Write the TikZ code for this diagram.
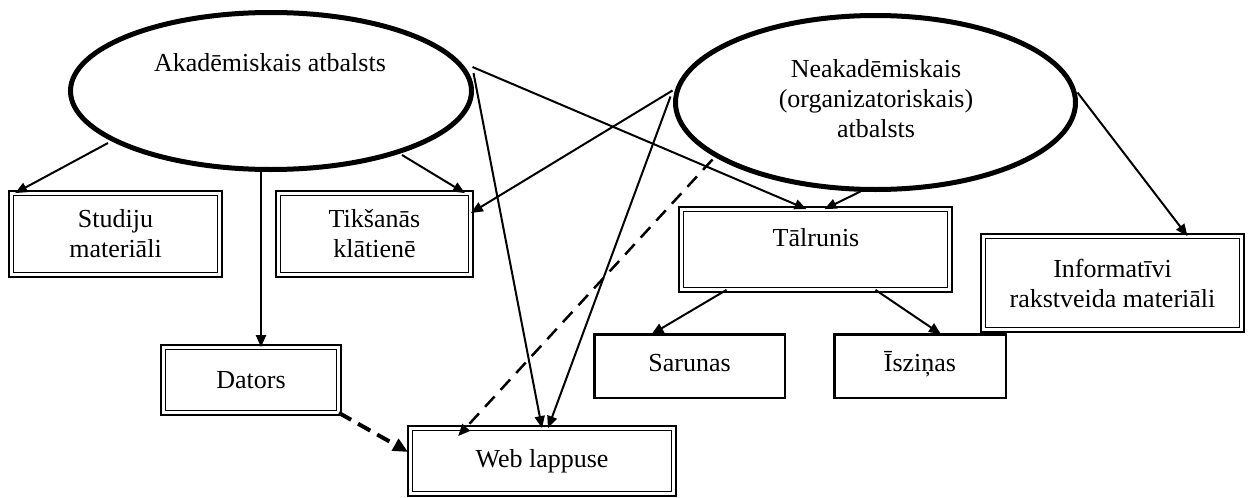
\documentclass[tikz,border=0pt]{standalone}
\usepackage{fontspec}
\setmainfont{Liberation Serif}
\usetikzlibrary{arrows.meta,calc,shapes.geometric}
\begin{document}
\begin{tikzpicture}[x=1pt,y=-1pt,
  every node/.style={font=\fontsize{26}{30}\selectfont},
  oval/.style={ellipse, draw, line width=5pt, inner sep=0pt, outer sep=0pt},
  dbox/.style={draw, double, line width=1.6pt, double distance=3pt, inner sep=0pt, outer sep=0pt, align=center},
  sbox/.style={draw, line width=2.5pt, inner sep=0pt, outer sep=0pt, align=center, text height=18pt, text depth=8pt},
  txt/.style={inner sep=0pt, align=center},
  conn/.style={line width=2pt, -{Triangle[length=12pt,width=10pt]}},
  dconn/.style={conn, line width=2.5pt, dash pattern=on 14pt off 9pt},
  tconn/.style={line width=4pt, dash pattern=on 14pt off 8pt, -{Triangle[length=15pt,width=13pt]}},
]
\useasboundingbox (0,0) rectangle (1251,498);

% ellipses
\node[oval, minimum width=401pt, minimum height=157pt] (e1) at (271,91) {};
\node[txt] (e1t) at (270,63) {Akadēmiskais atbalsts};
\node[oval, minimum width=400pt, minimum height=174pt] (e2) at (875.5,102.5) {};
\node[txt] (e2t) at (876,99) {Neakadēmiskais\\(organizatoriskais)\\atbalsts};

% boxes
\node[dbox, minimum width=208.8pt, minimum height=81.8pt] (stud) at (115.5,234) {Studiju\\materiāli};
\node[dbox, minimum width=192.8pt, minimum height=81.8pt] (tik) at (374.5,234) {Tikšanās\\klātienē};
\node[dbox, minimum width=175.8pt, minimum height=65.8pt] (dat) at (251,380) {Dators};
\node[dbox, minimum width=263.8pt, minimum height=65.8pt] (web) at (542,461) {Web lappuse};
\node[dbox, minimum width=268.8pt, minimum height=80.8pt] (tal) at (815.5,249.5) {};
\node[txt] (talt) at (816,238) {Tālrunis};
\node[dbox, minimum width=258.8pt, minimum height=93.8pt] (inf) at (1112.5,283) {Informatīvi\\rakstveida materiāli};
\node[sbox, minimum width=190.5pt, minimum height=63.5pt] (sar) at (689.5,366) {Sarunas};
\node[sbox, minimum width=171.5pt, minimum height=63.5pt] (isz) at (920,366) {Īsziņas};

% connector end points on the ellipses
\coordinate (e1bot) at ($(e1.center)+(-10,79)$);

% connectors from Akademiskais
\draw[conn] ($(e1.center)+(-163,52)$) -- ($(stud.north west)+(4,0)$);
\draw[conn] ($(e1.center)+(131,64)$) -- ($(tik.north east)+(-6,0)$);
\draw[conn] (e1bot) -- (e1bot |- dat.north);
\draw[conn] ($(e1.east)+(1,-24)$) -- ($(tal.north)+(-9,0)$);
\draw[conn] ($(e1.east)+(2,-18)$) -- (web.north);

% connectors from Neakademiskais
\draw[conn] ($(e2.west)+(-3,-12)$) -- ($(tik.east)+(0,-21)$);
\draw[conn] ($(e2.west)+(-5,-6)$) -- ($(web.north)+(6,0)$);
\draw[dconn] ($(e2.center)+(-163,57)$) -- ($(web.north west)+(48,8)$);
\draw[conn] ($(e2.center)+(-15,89)$) -- ($(tal.north)+(9,0)$);
\draw[conn] ($(e2.east)+(2,-10)$) -- ($(inf.north)+(75,0)$);

% other connectors
\draw[tconn] (dat.south east) -- ($(web.west)+(-2,-9)$);
\draw[conn] ($(tal.south)+(-89,0)$) -- ($(sar.north)+(-38,0)$);
\draw[conn] ($(tal.south)+(60,0)$) -- ($(isz.north)+(21,0)$);
\end{tikzpicture}
\end{document}
